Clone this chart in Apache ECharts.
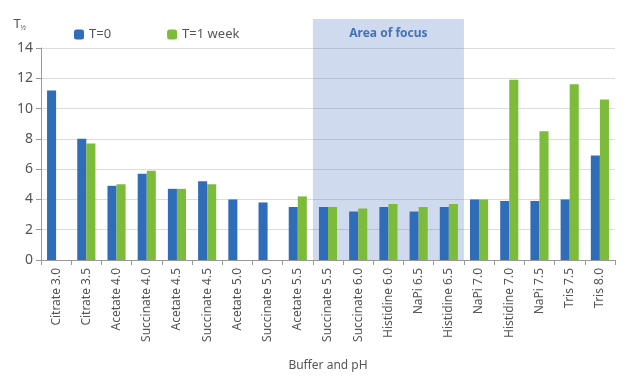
<!DOCTYPE html>
<html>
<head>
<meta charset="utf-8">
<script src="https://cdn.jsdelivr.net/npm/echarts@6/dist/echarts.min.js"></script>
<style>html,body{margin:0;padding:0;background:#fff}#c{width:631px;height:385px}</style>
</head>
<body>
<div id="c"></div>
<script>
const categories = ['Citrate 3.0','Citrate 3.5','Acetate 4.0','Succinate 4.0','Acetate 4.5','Succinate 4.5','Acetate 5.0','Succinate 5.0','Acetate 5.5','Succinate 5.5','Succinate 6.0','Histidine 6.0','NaPi 6.5','Histidine 6.5','NaPi 7.0','Histidine 7.0','NaPi 7.5','Tris 7.5','Tris 8.0'];
const t0 = [11.2, 8.0, 4.9, 5.7, 4.7, 5.2, 4.0, 3.8, 3.5, 3.5, 3.2, 3.5, 3.2, 3.5, 4.0, 3.9, 3.9, 4.0, 6.9];
const t1week = [null, 7.7, 5.0, 5.9, 4.7, 5.0, null, null, 4.2, 3.5, 3.4, 3.7, 3.5, 3.7, 4.0, 11.9, 8.5, 11.6, 10.6];
const yTicks = [0, 2, 4, 6, 8, 10, 12, 14];
const focusStart = 'Succinate 5.5';
const focusEnd = 'Histidine 6.5';
const focusTop = 15.9;

const font = 'Noto Sans';
const gridLeft = 41, gridRight = 16, gridBottom = 125;
const chart = echarts.init(document.getElementById('c'));
chart.setOption({
  animation: false,
  textStyle: { fontFamily: font },
  grid: [
    { left: gridLeft, right: gridRight, top: 48, bottom: gridBottom },
    { left: gridLeft, right: gridRight, top: 19, bottom: gridBottom }
  ],
  legend: {
    left: 69, top: 23, itemWidth: 10, itemHeight: 10, itemGap: 56,
    textStyle: { color: '#555', fontSize: 13, fontFamily: font },
    data: ['T=0', 'T=1 week']
  },
  xAxis: [{
    type: 'category', data: categories, gridIndex: 0,
    name: 'Buffer and pH', nameLocation: 'middle', nameGap: 100,
    nameTextStyle: { color: '#555', fontSize: 12 },
    axisLine: { lineStyle: { color: '#999' } },
    axisTick: { show: true, length: 5, lineStyle: { color: '#999' } },
    axisLabel: { rotate: 90, color: '#555', fontSize: 12, margin: 8 }
  }, {
    type: 'value', min: 0, max: categories.length, gridIndex: 1, show: false
  }],
  yAxis: [{
    type: 'value', min: 0, max: yTicks[yTicks.length - 1], interval: 2, gridIndex: 0,
    name: '{t|T}{s|½}', nameGap: 17,
    nameTextStyle: { align: 'right', padding: [0, 15, 0, 0], rich: { t: { fontSize: 13, color: '#555' }, s: { fontSize: 7, color: '#555', verticalAlign: 'bottom', padding: [7, 0, 0, 0] } } },
    axisLine: { show: true, lineStyle: { color: '#999' } },
    axisTick: { show: true, length: 5, lineStyle: { color: '#999' } },
    axisLabel: { color: '#555', fontSize: 14, margin: 8 },
    splitLine: { lineStyle: { color: '#dcdcdc' } }
  }, {
    type: 'value', min: 0, max: focusTop, gridIndex: 1, show: false
  }],
  series: [
    {
      name: 'focus', type: 'line', xAxisIndex: 1, yAxisIndex: 1,
      data: [], z: 0, silent: true,
      markArea: {
        silent: true,
        itemStyle: { color: 'rgba(74,111,192,0.26)' },
        label: { show: true, position: 'insideTop', distance: 9, color: '#4472b3', fontSize: 12, fontWeight: 'bold', fontFamily: font },
        data: [[{ name: 'Area of focus', xAxis: categories.indexOf(focusStart), yAxis: 0 }, { xAxis: categories.indexOf(focusEnd) + 1, yAxis: focusTop }]]
      }
    },
    {
      name: 'T=0', type: 'bar', data: t0, barGap: '0%', barCategoryGap: '40%',
      itemStyle: { color: '#2f6db8' }, z: 3
    },
    {
      name: 'T=1 week', type: 'bar', data: t1week,
      itemStyle: { color: '#7dbb3b' }, z: 3
    }
  ]
});
</script>
</body>
</html>
